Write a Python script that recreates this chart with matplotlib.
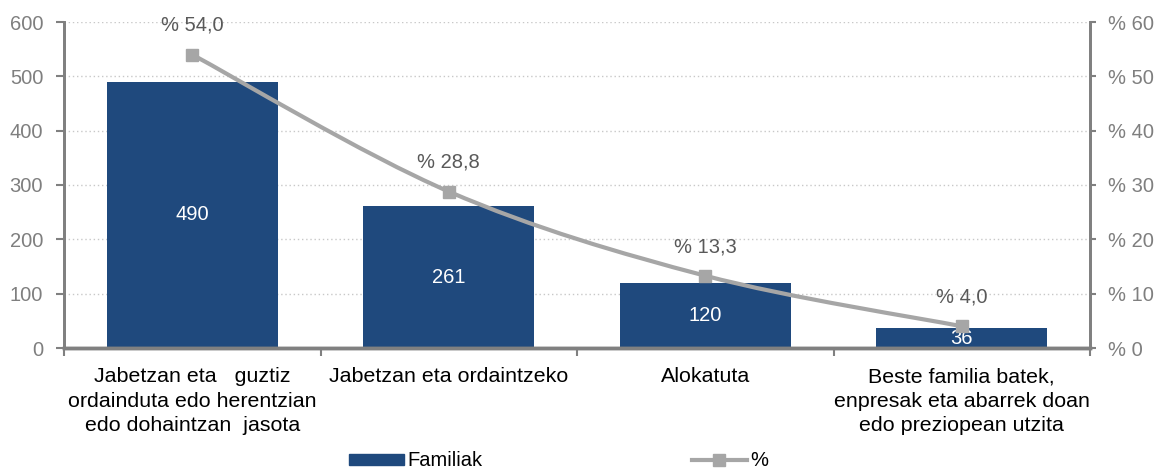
import matplotlib
matplotlib.use("Agg")
import matplotlib.pyplot as plt
from matplotlib.path import Path
from matplotlib.patches import PathPatch
from matplotlib.lines import Line2D
from matplotlib.patches import Patch
import numpy as np

categories = ["Jabetzan eta   guztiz\nordainduta edo herentzian\nedo dohaintzan  jasota",
              "Jabetzan eta ordaintzeko",
              "Alokatuta",
              "Beste familia batek,\nenpresak eta abarrek doan\nedo preziopean utzita"]
familiak = [490, 261, 120, 36]
percent = [54.0, 28.8, 13.3, 4.0]
left_ticks = [0, 100, 200, 300, 400, 500, 600]
right_ticks = [0, 10, 20, 30, 40, 50, 60]

plt.rcParams['font.family'] = ['Liberation Sans', 'DejaVu Sans']
FS = 14.5
CFS = 15.4
BAR = '#1F497D'
LINE = '#A6A6A6'
GRAYTXT = '#7F7F7F'
SPINE = '#808080'

fig = plt.figure(figsize=(11.63, 4.72), dpi=100)
ax = fig.add_axes([64/1163, 1-348/472, (1090-64)/1163, (348-22)/472])
ax2 = ax.twinx()

x = np.arange(len(categories))
bars = ax.bar(x, familiak, width=0.667, color=BAR, zorder=2)
for xi, v in zip(x, familiak):
    ax.text(xi, v/2, f"{v}", ha='center', va='center', color='white', fontsize=FS, zorder=5)

ax.set_xlim(-0.5, len(categories)-0.5)
ax.set_ylim(0, 600)
ax.set_yticks(left_ticks)
ax.set_yticklabels([str(t) for t in left_ticks])
ax.yaxis.grid(True, linestyle=(0, (1, 2)), color='#C8C8C8', linewidth=1)
ax.set_axisbelow(True)

ax.set_xticks(np.arange(-0.5, len(categories), 1.0), minor=False)
ax.set_xticklabels([])
ax.set_xticks(x, minor=True)
ax.set_xticklabels(categories, minor=True, fontsize=CFS, color='black', linespacing=1.35)
ax.tick_params(axis='x', which='minor', length=0, pad=14)
ax.tick_params(axis='x', which='major', length=6, width=1.5, color=SPINE, direction='out')
ax.tick_params(axis='y', length=6, width=1.5, color=SPINE, labelcolor=GRAYTXT, labelsize=FS, pad=9)

for a in (ax, ax2):
    a.spines['top'].set_visible(False)
    a.spines['left'].set_color(SPINE)
    a.spines['right'].set_color(SPINE)
    a.spines['bottom'].set_color(SPINE)
    a.spines['left'].set_linewidth(2)
    a.spines['right'].set_linewidth(2)
    a.spines['bottom'].set_linewidth(2.5)

ax2.set_ylim(0, 60)
ax2.set_yticks(right_ticks)
ax2.set_yticklabels([f"% {t}" for t in right_ticks])
ax2.tick_params(axis='y', length=4, width=1.5, color=SPINE, labelcolor=GRAYTXT, labelsize=FS, pad=9)

# smoothed line (Catmull-Rom style Bezier like Excel)
pts = np.column_stack([x, percent]).astype(float)
verts = [tuple(pts[0])]
codes = [Path.MOVETO]
n = len(pts)
for i in range(n-1):
    p0 = pts[i-1] if i > 0 else pts[i]
    p1 = pts[i]
    p2 = pts[i+1]
    p3 = pts[i+2] if i+2 < n else pts[i+1]
    c1 = p1 + (p2 - p0) / 6.0
    c2 = p2 - (p3 - p1) / 6.0
    verts += [tuple(c1), tuple(c2), tuple(p2)]
    codes += [Path.CURVE4]*3
patch = PathPatch(Path(verts, codes), facecolor='none', edgecolor=LINE, linewidth=3, zorder=3)
ax2.add_patch(patch)
ax2.plot(x, percent, linestyle='none', marker='s', markersize=8, color=LINE, zorder=4)
for xi, p in zip(x, percent):
    ax2.annotate(f"% {p:.1f}".replace('.', ','), (xi, p), xytext=(0, 21), textcoords='offset points',
                 ha='center', va='center', fontsize=FS, color='#595959')

handles = [Patch(facecolor=BAR, edgecolor=BAR),
           Line2D([0], [0], color=LINE, linewidth=3, marker='s', markersize=8)]
fig.legend(handles, ['Familiak', '%'], loc='center', bbox_to_anchor=(559/1163, 1-461/472),
           ncol=2, frameon=False, fontsize=FS, handlelength=2.7, handleheight=0.5,
           handletextpad=0.2, columnspacing=10.4, borderpad=0.1)

fig.savefig('out.png', dpi=100)
